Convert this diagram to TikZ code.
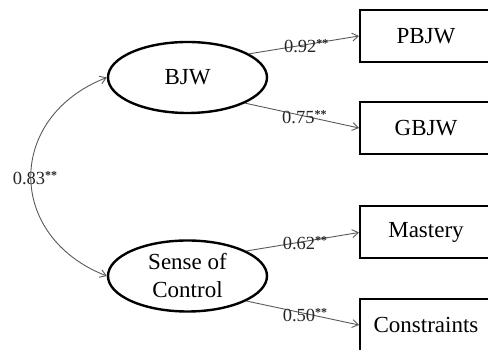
\documentclass[tikz,border=0pt]{standalone}
\usepackage{fontspec}
\setmainfont{Liberation Serif}
\usetikzlibrary{shapes.geometric,arrows.meta}
\tikzset{
  latent/.style={ellipse, draw=black, line width=2.4pt, minimum width=159pt, minimum height=71pt, inner sep=0pt, align=center, font=\fontsize{23}{28}\selectfont},
  observed/.style={rectangle, draw=black, line width=2pt, minimum width=132pt, minimum height=52pt, inner sep=0pt, font=\fontsize{23}{28}\selectfont},
  path/.style={draw=black!65, line width=0.9pt, -{Straight Barb[length=6pt,width=8pt]}},
  coef/.style={inner sep=0pt, font=\fontsize{18.5}{20}\selectfont, text=black!85},
}
\newcommand{\sig}{\raisebox{5pt}{\fontsize{12}{12}\selectfont\bfseries **}}
\begin{document}
\begin{tikzpicture}[x=1pt,y=1pt]
\useasboundingbox (0,0) rectangle (488,350);
\clip (0,0) rectangle (488,350);
\node[latent] (bjw) at (187.5,272.5) {BJW};
\node[latent] (soc) at (187.5,74) {Sense of\\Control};
\node[observed, anchor=west] (pbjw) at (359,314) {PBJW};
\node[observed, anchor=west] (gbjw) at (359,222) {GBJW};
\node[observed, anchor=west] (mast) at (359,117.5) {Mastery};
\node[observed, anchor=west] (cons) at (359,25) {Constraints};
\draw[path] (bjw.21) -- node[coef, pos=0.52, yshift=-1.5pt] {0.92\sig} (pbjw.west);
\draw[path] (bjw.-24) -- node[coef, pos=0.52, yshift=-1.5pt] {0.75\sig} (gbjw.west);
\draw[path] (soc.23) -- node[coef, pos=0.52, yshift=-1.5pt] {0.62\sig} (mast.west);
\draw[path] (soc.-23) -- node[coef, pos=0.52, yshift=-1.5pt] {0.50\sig} (cons.west);
\draw[draw=black!65, line width=0.9pt, {Straight Barb[length=6pt,width=8pt]}-{Straight Barb[length=6pt,width=8pt]}]
  (bjw.west) .. controls +(-101,-39.5) and +(-101,39.5) .. (soc.west)
  node[coef, pos=0.5, xshift=4pt, yshift=-1.5pt] (cov) {0.83\sig};
\end{tikzpicture}
\end{document}
